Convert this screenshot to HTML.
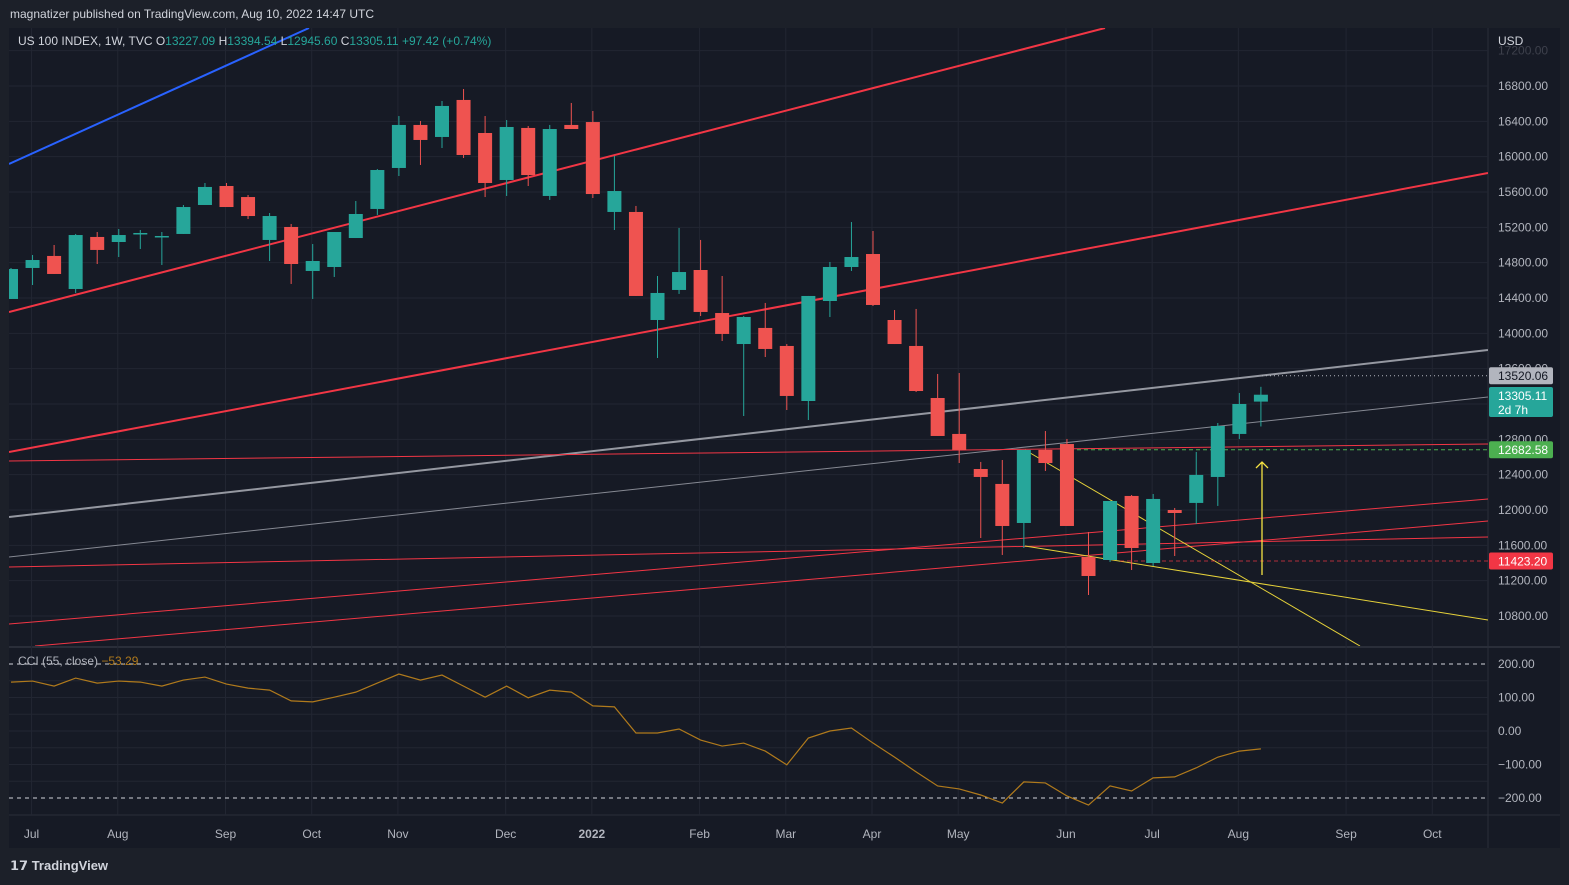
<!DOCTYPE html>
<html><head><meta charset="utf-8">
<style>
html,body{margin:0;padding:0;background:#1c2029;width:1569px;height:885px;overflow:hidden;font-family:"Liberation Sans",sans-serif;}
#hdr{position:absolute;left:10px;top:7px;color:#d1d4dc;font-size:12px;}
#brand{position:absolute;left:10px;top:858px;color:#d1d4dc;font-size:13px;font-weight:bold;}
svg{position:absolute;left:0;top:0;}
</style></head><body>
<svg id="chart" width="1569" height="885"></svg>
<div id="hdr">magnatizer published on TradingView.com, Aug 10, 2022 14:47 UTC</div>
<div id="brand"><span style="font-weight:900">𝟭𝟳</span> TradingView</div>
<script>
const dates=['Jul','Aug','Sep','Oct','Nov','Dec','2022','Feb','Mar','Apr','May','Jun','Jul','Aug','Sep','Oct'];
const dateIdx=[1,5,10,14,18,23,27,32,36,40,44,49,53,57,62,66];
const opens=[14389,14740,14876,14502,15091,15034,15125,15091,15125,15453,15668,15543,15057,15204,14706,14751,15079,15408,15872,16359,16223,16642,16268,15736,16325,15555,16359,16392,15374,15374,14151,14491,14717,14230,13879,14061,13857,13234,14366,14751,14898,14151,13857,13268,12861,12464,12295,11853,12680,12747,11468,11434,12159,11400,12000,12080,12374,12861,13227.09];
const highs=[14740,14887,15000,15125,15147,15181,15170,15147,15453,15702,15702,15566,15362,15238,15011,15147,15498,15860,16460,16404,16630,16766,16460,16415,16347,16359,16608,16517,16008,15442,14649,15193,15057,14649,14196,14344,13879,14423,14808,15260,15159,14264,14276,13540,13551,12544,12566,12680,12894,12804,11751,12102,12170,12181,12023,12657,12985,13325,13394.54];
const lows=[14389,14547,14672,14457,14785,14864,14955,14774,15125,15453,15430,15294,14819,14559,14389,14638,15079,15340,15781,15906,16098,15985,15543,15555,15668,15510,16313,15532,15170,14423,13721,14446,14196,13913,13064,13732,13132,13019,14185,14706,14310,13879,13336,12838,12532,11683,11491,11570,12442,11819,11038,11412,11321,11366,11479,11842,12046,12804,12945.60];
const closes=[14728,14830,14672,15113,14944,15113,15136,15102,15430,15657,15430,15328,15328,14785,14819,15147,15351,15849,16359,16189,16574,16019,15702,16336,15792,16313,16313,15577,15611,14423,14457,14694,14242,13993,14185,13823,13291,14423,14751,14864,14321,13879,13347,12838,12680,12374,11819,12680,12532,11819,11253,12102,11570,12125,11966,12397,12951,13200,13305.11];
const cci=[146,149,134,158,143,149,146,134,152,161,140,128,122,90,87,101,116,143,170,152,167,134,101,134,99,122,116,75,72,-6,-6,6,-27,-45,-36,-60,-101,-21,0,9,-36,-78,-122,-164,-173,-191,-215,-152,-155,-194,-221,-164,-179,-140,-137,-110,-78,-60,-53.29];
const priceTicks=[17200,16800,16400,16000,15600,15200,14800,14400,14000,13600,13200,12800,12400,12000,11600,11200,10800];
const cciTicks=[200,100,0,-100,-200];

const NS='http://www.w3.org/2000/svg';
const svg=document.getElementById('chart');
function el(tag,attrs,parent){const e=document.createElementNS(NS,tag);for(const k in attrs)e.setAttribute(k,attrs[k]);(parent||svg).appendChild(e);return e;}
const L=9,R=1488,PT=28,PB=646,CT=648,CB=815;
const xOf=i=>11+21.55*i;
const yP=p=>86+(16800-p)*0.0883333;
const yC=v=>731-v*0.335;
const fmt=v=>v.toFixed(2).replace('-','\u2212');

let e;
e=el('rect',{x:L,y:PT,width:R-L,height:CB-PT,fill:'#161a25'});

e=el('rect',{x:R,y:PT,width:1560-R,height:CB-PT,fill:'#161a25'});

e=el('rect',{x:L,y:CB,width:1560-L,height:848-CB,fill:'#161a25'});

el('line',{x1:L,x2:1560,y1:647,y2:647,stroke:'#2a2e39','stroke-width':2});
el('line',{x1:R,x2:R,y1:PT,y2:848,stroke:'#2a2e39'});
el('line',{x1:L,x2:1560,y1:CB,y2:CB,stroke:'#2a2e39'});

priceTicks.forEach(p=>{const y=yP(p);if(y>PT&&y<PB){el('line',{x1:L,x2:R,y1:y,y2:y,stroke:'#222632'});}});
[150,50,-50,-150].forEach(v=>el('line',{x1:L,x2:R,y1:yC(v),y2:yC(v),stroke:'#222632'}));
cciTicks.forEach(v=>{if(v===200||v===-200)return;el('line',{x1:L,x2:R,y1:yC(v),y2:yC(v),stroke:'#222632'});});
dateIdx.forEach(i=>{const x=xOf(i)-1;el('line',{x1:x,x2:x,y1:PT,y2:CB,stroke:'#222632'});});

priceTicks.forEach(p=>{const y=yP(p);if(y>PB-5)return;
 const t=el('text',{x:1498,y:y+4,fill:'#b2b5be','font-size':12,'fill-opacity':y<PT+30?0.25:1});t.textContent=p.toFixed(2);
 });
e=el('text',{x:1498,y:45,fill:'#d1d4dc','font-size':12});e.textContent='USD';

cciTicks.forEach(v=>{const t=el('text',{x:1498,y:yC(v)+4,fill:'#b2b5be','font-size':12});t.textContent=fmt(v);
 });
dates.forEach((d,k)=>{const t=el('text',{x:xOf(dateIdx[k])-1,y:838,fill:'#b2b5be','font-size':12,'text-anchor':'middle','font-weight':d==='2022'?'bold':'normal'});t.textContent=d;
 });

const clipP=el('clipPath',{id:'cp'});el('rect',{x:L,y:PT,width:R-L,height:PB-PT},clipP);
const g=el('g',{'clip-path':'url(#cp)'});

const lines=[
 [9,164,309,28,'#2962ff',2,'blue-trendline'],
 [9,312,1105,28,'#f23645',2,'upper-channel-line'],
 [9,452,1488,173,'#f23645',2,'middle-channel-line'],
 [9,517,1488,350,'#9598a1',2,'gray-trendline'],
 [9,557,1488,397,'#868993',1,'gray-thin-trendline'],
 [9,461,1488,444,'#f23645',1,'red-horizontal-line'],
 [9,567,1488,537,'#f23645',1,'lower-red-line-1'],
 [9,624,1488,499,'#f23645',1,'lower-red-line-2'],
 [35,646,1488,521,'#f23645',1,'lower-red-line-3'],
 [1025,450,1360,646,'#e6d23a',1,'yellow-wedge-upper'],
 [1025,546,1488,620,'#e6d23a',1,'yellow-wedge-lower']];
lines.forEach(a=>{const l=el('line',{x1:a[0],y1:a[1],x2:a[2],y2:a[3],stroke:a[4],'stroke-width':a[5]},g);
 });
e=el('line',{x1:1070,x2:R,y1:yP(12682.58),y2:yP(12682.58),stroke:'#4caf50','stroke-dasharray':'4 3'},g);

e=el('line',{x1:1120,x2:R,y1:yP(11423.2),y2:yP(11423.2),stroke:'#f23645','stroke-dasharray':'4 3','stroke-opacity':0.7},g);

e=el('line',{x1:1262,x2:R,y1:yP(13520.06),y2:yP(13520.06),stroke:'#b2b5be','stroke-dasharray':'1 3'},g);


opens.forEach((o,i)=>{const c=closes[i],x=xOf(i),up=c>=o,col=up?'#26a69a':'#ef5350';
 const cg=el('g',{},g);
 
 el('line',{x1:x,x2:x,y1:yP(highs[i]),y2:yP(lows[i]),stroke:col,'stroke-width':1},cg);
 const top=yP(Math.max(o,c)),h=Math.max(1.5,Math.abs(yP(o)-yP(c)));
 el('rect',{x:x-7,y:top,width:14,height:h,fill:col},cg);});

e=el('path',{d:'M1262 575 L1262 462 M1256 468 L1262 462 L1268 468',stroke:'#f5e342','stroke-width':1.3,fill:'none'},g);


el('line',{x1:L,x2:R,y1:yC(200),y2:yC(200),stroke:'#d1d4dc','stroke-dasharray':'4 4'});
el('line',{x1:L,x2:R,y1:yC(-200),y2:yC(-200),stroke:'#d1d4dc','stroke-dasharray':'4 4'});
e=el('polyline',{points:cci.map((v,i)=>xOf(i)+','+yC(v)).join(' '),fill:'none',stroke:'#b07a1c','stroke-width':1.2});


function tag(y,h,bg,fg,lines,name){const gg=el('g',{});
 el('rect',{x:R+1,y:y-h/2,width:64,height:h,fill:bg,rx:2},gg);
 lines.forEach((s,k)=>{const t=el('text',{x:1498,y:y-h/2+13+k*14,fill:fg,'font-size':12},gg);t.textContent=s;});}
tag(yP(13520.06),17,'#b2b5be','#131722',['13520.06'],'level-label-13520');
tag(402,30,'#26a69a','#ffffff',['13305.11','2d 7h'],'last-price-label');
tag(yP(12682.58),17,'#4caf50','#ffffff',['12682.58'],'level-label-12682');
tag(yP(11423.2),17,'#f23645','#ffffff',['11423.20'],'level-label-11423');

e=el('text',{x:18,y:45,'font-size':12,fill:'#d1d4dc'});

e.innerHTML='US 100 INDEX, 1W, TVC  <tspan fill="#d1d4dc">O</tspan><tspan fill="#26a69a">13227.09</tspan> <tspan fill="#d1d4dc">H</tspan><tspan fill="#26a69a">13394.54</tspan> <tspan fill="#d1d4dc">L</tspan><tspan fill="#26a69a">12945.60</tspan> <tspan fill="#d1d4dc">C</tspan><tspan fill="#26a69a">13305.11</tspan> <tspan fill="#26a69a">+97.42 (+0.74%)</tspan>';
e=el('text',{x:18,y:665,'font-size':12,fill:'#b2b5be'});

e.innerHTML='CCI (55, close) <tspan fill="#b07a1c">\u221253.29</tspan>';
</script>
</body></html>
